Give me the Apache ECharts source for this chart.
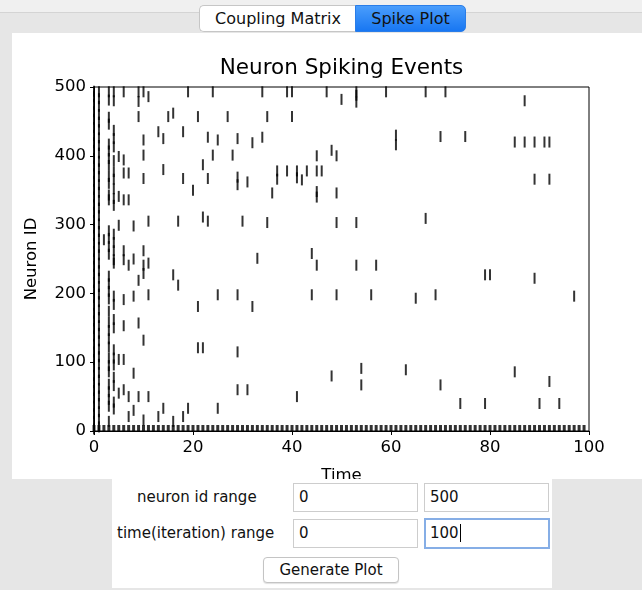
<!DOCTYPE html>
<html>
<head>
<meta charset="utf-8">
<script src="https://cdn.jsdelivr.net/npm/echarts@6/dist/echarts.min.js"></script>
<style>
  body { margin: 0; width: 642px; height: 590px; background: #e6e6e6; position: relative; overflow: hidden; font-family: "DejaVu Sans", sans-serif; }
  .abs { position: absolute; box-sizing: border-box; }
  #topbar { left: 0; top: 0; width: 642px; height: 13px; background: #f0f0f0; border-bottom: 1px solid #d4d4d4; }
  .tab { top: 5px; height: 27px; font-size: 16px; line-height: 25px; text-align: center; color: #111; }
  #tab1 { left: 199px; width: 157px; background: #fff; border: 1px solid #c6c6c6; border-right: none; border-radius: 5px 0 0 5px; }
  #tab2 { left: 355px; width: 111px; background: linear-gradient(#4a9dfc, #1877f2); border: 1px solid #2a7de8; border-radius: 0 5px 5px 0; }
  #panel { left: 12px; top: 33px; width: 630px; height: 446px; background: #fff; overflow: hidden; }
  #chart { left: 0; top: 0; width: 630px; height: 446px; }
  #form { left: 112px; top: 479px; width: 440px; height: 109px; background: #fff; }
  .lbl { font-size: 15px; color: #111; white-space: nowrap; }
  .box { background: #fff; border: 1px solid #cdcdcd; font-size: 15px; padding-left: 5px; line-height: 27px; color: #111; }
  #focus { border: 2px solid #86aee6; line-height: 27px; padding-left: 4px; }
  #btn { left: 151px; top: 78px; width: 136px; height: 26px; border: 1px solid #c4c4c4; border-radius: 4px; background: #fff; font-size: 15px; line-height: 24px; text-align: center; color: #111; box-shadow: 0 1px 1px rgba(0,0,0,0.12); }
</style>
</head>
<body>
<div id="topbar" class="abs"></div>
<div id="tab1" class="abs tab">Coupling Matrix</div>
<div id="tab2" class="abs tab">Spike Plot</div>
<div id="panel" class="abs"><div id="chart" class="abs"></div></div>
<div id="form" class="abs">
  <div class="abs lbl" style="left:25px;top:9px;">neuron id range</div>
  <div class="abs box" style="left:181px;top:4px;width:125px;height:29px;">0</div>
  <div class="abs box" style="left:312px;top:4px;width:125px;height:29px;">500</div>
  <div class="abs lbl" style="left:5px;top:45px;">time(iteration) range</div>
  <div class="abs box" style="left:181px;top:40px;width:125px;height:29px;">0</div>
  <div class="abs box" id="focus" style="left:312px;top:39px;width:126px;height:31px;">100<span style="border-left:1px solid #000;margin-left:1px;"></span></div>
  <div id="btn" class="abs">Generate Plot</div>
</div>

<script>
  // neurons firing at time 0 and 1 (almost the whole population)
  const burstIdsT0 = [3, 14, 25, 36, 48, 59, 70, 81, 93, 104, 115, 126, 138, 149, 160, 171, 183, 194, 205, 216, 228, 239, 250, 261, 273, 284, 295, 306, 318, 329, 340, 351, 363, 374, 385, 396, 408, 419, 430, 441, 453, 464, 475, 486, 494];
  const burstIdsT1 = [6, 17, 28, 40, 51, 62, 74, 85, 97, 108, 119, 131, 142, 153, 165, 176, 188, 199, 210, 222, 233, 244, 256, 267, 279, 290, 301, 313, 324, 335, 347, 358, 370, 381, 392, 404, 415, 426, 438, 449, 460, 472, 483, 493];
  // dense early columns at time 3 and 4
  const burstIdsT3 = [493, 481, 456, 446, 417, 407, 396, 386, 370, 360, 343, 336, 291, 280, 268, 257, 225, 214, 203, 192, 174, 158, 146, 134, 122, 106, 95, 86, 68, 57, 46, 36, 14];
  const burstIdsT4 = [493, 480, 437, 425, 413, 393, 377, 366, 352, 338, 328, 286, 274, 262, 249, 244, 196, 184, 162, 150, 118, 106, 96, 78, 66, 42, 32];
  // neuron 0 fires on every iteration
  const neuronZeroTimes = [0, 1, 2, 3, 4, 5, 6, 7, 8, 9, 10, 11, 12, 13, 14, 15, 16, 17, 18, 19, 20, 21, 22, 23, 24, 25, 26, 27, 28, 29, 30, 31, 32, 33, 34, 35, 36, 37, 38, 39, 40, 41, 42, 43, 44, 45, 46, 47, 48, 49, 50, 51, 52, 53, 54, 55, 56, 57, 58, 59, 60, 61, 62, 63, 64, 65, 66, 67, 68, 69, 70, 71, 72, 73, 74, 75, 76, 77, 78, 79, 80, 81, 82, 83, 84, 85, 86, 87, 88, 89, 90, 91, 92, 93, 94, 95, 96, 97, 98, 99];
  // remaining spikes: [time, neuron id]
  const spikes = [
    [6, 493], [9, 493], [10, 493], [19, 493], [24, 493], [34, 493], [39, 493], [40, 493], [47, 493], [53, 493], [59, 493], [67, 493], [71, 493],
    [9, 479], [11, 486], [50, 482], [53, 488], [53, 478], [87, 480],
    [9, 457], [15, 457], [16, 462], [21, 457], [27, 457], [35, 457], [40, 457],
    [13, 435], [14, 425], [18, 435], [23, 427], [25, 423], [29, 425], [32, 419], [10, 423], [34, 427],
    [61, 430], [61, 416], [70, 428], [75, 428], [85, 420], [87, 420], [89, 420], [91, 420], [92, 420],
    [5, 399], [6, 394], [10, 401], [24, 401], [28, 401], [22, 387], [45, 400], [48, 408], [49, 400],
    [14, 380], [6, 375], [7, 375], [10, 367], [18, 367], [23, 367], [29, 369], [29, 358], [31, 362],
    [37, 378], [37, 366], [39, 378], [41, 378], [41, 368], [42, 365], [43, 378], [45, 378], [46, 378], [89, 366], [92, 366],
    [20, 350], [5, 341], [6, 336], [7, 336], [36, 346], [45, 348], [45, 340], [49, 346],
    [5, 299], [8, 298], [11, 305], [17, 305], [22, 311], [23, 305], [30, 305], [35, 303], [49, 303], [53, 303], [67, 309],
    [2, 278], [6, 262], [6, 249], [10, 262], [7, 241], [8, 250], [10, 241], [11, 244], [33, 251], [44, 258], [45, 241], [53, 241], [57, 241],
    [16, 227], [17, 212], [9, 219], [10, 229], [79, 227], [80, 227], [89, 222],
    [6, 191], [8, 196], [11, 198], [21, 181], [25, 198], [29, 198], [32, 181], [44, 198], [49, 198], [56, 198], [65, 193], [69, 198], [97, 196],
    [6, 153], [9, 157], [10, 132],
    [21, 121], [22, 121], [29, 115],
    [5, 104], [6, 104], [8, 84],
    [48, 80], [54, 91], [54, 67], [63, 89], [85, 86], [70, 67], [92, 72],
    [5, 55], [6, 60], [7, 50], [9, 50], [11, 50], [29, 60], [31, 60], [41, 50],
    [8, 30], [7, 21], [10, 16], [14, 33], [13, 21], [19, 33], [18, 21], [16, 14], [25, 33],
    [74, 40], [79, 40], [90, 40], [94, 40]
  ];
  const timeTicks = { min: 0, max: 100, step: 20 };
  const idTicks = { min: 0, max: 500, step: 100 };

  const FONT = "DejaVu Sans";
  const spikeData = []
    .concat(burstIdsT0.map(id => [0, id]))
    .concat(burstIdsT1.map(id => [1, id]))
    .concat(burstIdsT3.map(id => [3, id]))
    .concat(burstIdsT4.map(id => [4, id]))
    .concat(spikes);
  const zeroRow = neuronZeroTimes.map(t => [t, 0]);

  const chart = echarts.init(document.getElementById('chart'));
  const option = {
    animation: false,
    title: {
      text: 'Neuron Spiking Events',
      left: 329.5,
      top: 24,
      padding: 0,
      textAlign: 'center',
      textStyle: { fontFamily: FONT, fontSize: 21.5, fontWeight: 'normal', color: '#000' }
    },
    grid: {
      left: 82, top: 54, width: 495, height: 344,
      outerBoundsMode: 'none',
      containLabel: false,
      show: true, borderColor: '#000', borderWidth: 1, backgroundColor: '#fff'
    },
    xAxis: {
      type: 'value',
      min: timeTicks.min, max: timeTicks.max, interval: timeTicks.step,
      name: 'Time',
      nameLocation: 'middle',
      nameGap: 36,
      nameTextStyle: { fontFamily: FONT, fontSize: 16.5, color: '#000' },
      axisLine: { lineStyle: { color: '#000', width: 1 } },
      axisTick: { length: 4, lineStyle: { color: '#000' } },
      axisLabel: { margin: 8, fontFamily: FONT, fontSize: 16.5, color: '#000' },
      splitLine: { show: false }
    },
    yAxis: {
      type: 'value',
      min: idTicks.min, max: idTicks.max, interval: idTicks.step,
      name: 'Neuron ID',
      nameLocation: 'middle',
      nameGap: 54,
      nameTextStyle: { fontFamily: FONT, fontSize: 16.5, color: '#000' },
      axisLine: { show: true, lineStyle: { color: '#000', width: 1 } },
      axisTick: { show: true, length: 4, lineStyle: { color: '#000' } },
      axisLabel: { margin: 8, fontFamily: FONT, fontSize: 16.5, color: '#000' },
      splitLine: { show: false }
    },
    series: [
      {
        type: 'scatter',
        data: spikeData,
        symbol: 'rect',
        symbolSize: [2, 11],
        itemStyle: { color: '#000' },
        silent: true
      },
      {
        // neuron 0 row, lower half hidden by the axis
        type: 'scatter',
        data: zeroRow,
        symbol: 'rect',
        symbolSize: [3, 6],
        symbolOffset: [0, -3],
        itemStyle: { color: '#000' },
        silent: true
      }
    ]
  };
  chart.setOption(option);
</script>
</body>
</html>
